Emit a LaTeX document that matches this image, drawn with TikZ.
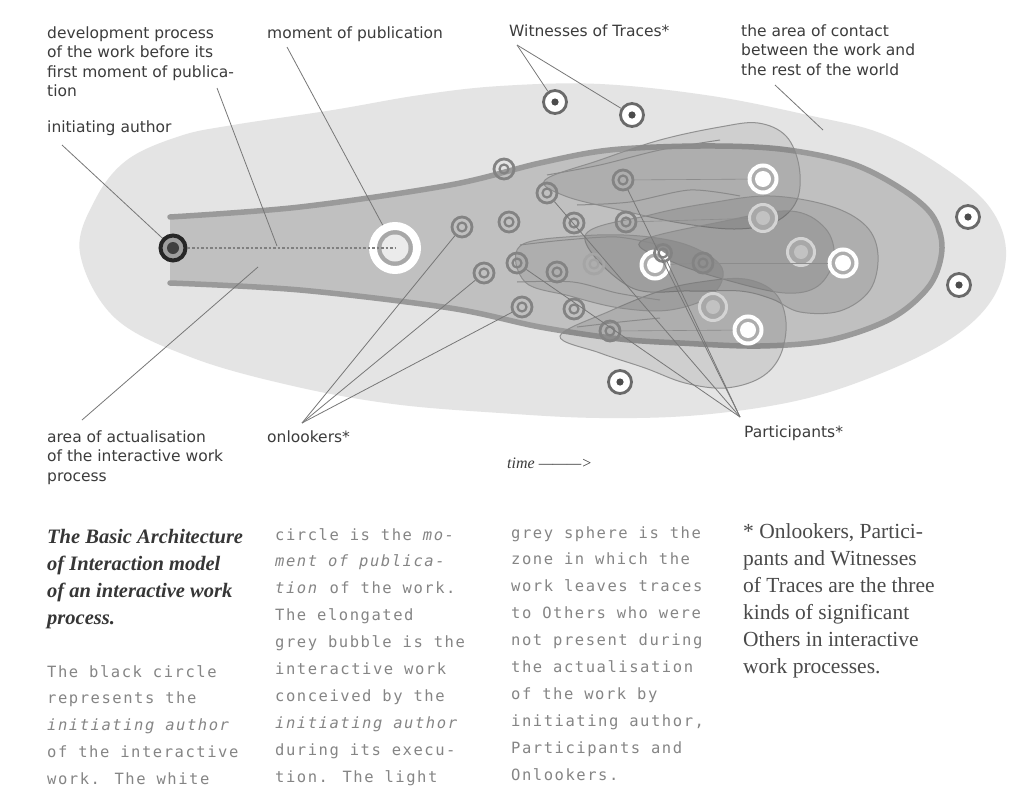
\documentclass[tikz,border=0pt]{standalone}
\usepackage{fontspec}
\newfontfamily\labfont{DejaVu Sans}
\newfontfamily\monof[LetterSpace=10,ItalicFont={DejaVu Sans Mono Oblique}]{DejaVu Sans Mono}
\newfontfamily\serf{Liberation Serif}
\definecolor{spherec}{HTML}{E4E4E4}
\definecolor{bubblec}{HTML}{C0C0C0}
\definecolor{bubbleline}{HTML}{9A9A9A}
\definecolor{lobeline}{HTML}{8A8A8A}
\definecolor{ringc}{HTML}{838383}
\definecolor{witc}{HTML}{6A6A6A}
\definecolor{leaderc}{HTML}{777777}
\definecolor{labc}{HTML}{3C3C3C}
\definecolor{monoc}{HTML}{858585}
\definecolor{headc}{HTML}{363636}
\definecolor{footc}{HTML}{4A4A4A}
\tikzset{
  labtxt/.style={font=\labfont\fontsize{15.5}{19.5}\selectfont, text=labc, align=left, inner sep=0pt, anchor=base west},
  monotxt/.style={font=\monof\fontsize{15.5}{26.9}\selectfont, text=monoc, align=left, inner sep=0pt, anchor=base west},
  headtxt/.style={font=\serf\bfseries\itshape\fontsize{20.5}{27}\selectfont, text=headc, align=left, inner sep=0pt, anchor=base west},
  foottxt/.style={font=\serf\fontsize{21.5}{27}\selectfont, text=footc, align=left, inner sep=0pt, anchor=base west},
  timetxt/.style={font=\serf\itshape\fontsize{16}{20}\selectfont, text=labc, inner sep=0pt, anchor=base west},
  onl/.style={circle, minimum size=20pt, inner sep=0pt, draw=ringc, line width=2.8pt,
    path picture={\draw[ringc, line width=2.2pt] (path picture bounding box.center) circle (4.5);}},
  onlsmall/.style={onl, minimum size=17pt},
  onlfaint/.style={onl, draw=ringc!45!bubblec,
    path picture={\draw[ringc!45!bubblec, line width=2.2pt] (path picture bounding box.center) circle (4.5);}},
  wit/.style={circle, minimum size=23pt, inner sep=0pt, draw=witc, line width=2.8pt, fill=white,
    path picture={\fill[black!70] (path picture bounding box.center) circle (3.6);}},
  part/.style={circle, minimum size=27pt, inner sep=0pt, draw=white, line width=4pt, fill=black!32,
    path picture={\fill[white] (path picture bounding box.center) circle (8);}},
  partfaint/.style={circle, minimum size=27pt, inner sep=0pt, draw=black!17, line width=3pt, fill=black!34,
    path picture={\fill[black!24] (path picture bounding box.center) circle (7);}},
  pubc/.style={circle, minimum size=44pt, inner sep=0pt, draw=white, line width=8pt, fill=black!34,
    path picture={\fill[black!8] (path picture bounding box.center) circle (13.5);}},
  authc/.style={circle, minimum size=25pt, inner sep=0pt, draw=black!85, line width=4pt, fill=black!38,
    path picture={\fill[black!75] (path picture bounding box.center) circle (6);}},
  leader/.style={draw=leaderc, line width=0.8pt},
  lobe/.style={fill=black, fill opacity=0.09, draw=lobeline, draw opacity=0.9, line width=1pt},
  tailline/.style={draw=lobeline, line width=1pt},
  faintline/.style={draw=black!45, line width=0.6pt},
  dotline/.style={draw=black!50, line width=1.8pt, dash pattern=on 2.5pt off 2pt}
}
\begin{document}
\begin{tikzpicture}[x=1pt,y=-1pt]
\useasboundingbox (0,0) rectangle (1024,808);
\fill[white] (0,0) rectangle (1024,808);

% light grey sphere
\fill[spherec] plot[smooth cycle, tension=0.6] coordinates {
 (80,253) (95,200) (127,160) (180,136) (233,125) (333,110) (420,95) (500,86) (600,84) (712,96)
 (812,116) (880,133) (940,165) (988,205) (1006,250) (993,298) (952,338) (882,373)
 (800,400) (700,415) (600,418) (500,413) (393,404) (293,386) (193,358) (115,318)};

% elongated bubble
\fill[bubblec] plot[smooth, tension=0.55] coordinates {
 (170,217) (300,207) (450,185) (540,163) (610,150) (700,146) (780,149) (850,163) (900,188)
 (932,215) (942,248) (930,285) (892,318) (830,340) (760,346) (680,343) (620,339) (540,327)
 (450,308) (300,290) (170,283)} -- cycle;
\draw[bubbleline, line width=5.5pt, line cap=round] plot[smooth, tension=0.55] coordinates {
 (170,217) (300,207) (450,185) (540,163) (610,150) (700,146) (780,149) (850,163) (900,188)
 (932,215) (942,248) (930,285) (892,318) (830,340) (760,346) (680,343) (620,339) (540,327)
 (450,308) (300,290) (170,283)};

% participant lobes
\path[lobe] plot[smooth cycle, tension=0.6] coordinates {
 (545,180) (600,160) (660,140) (720,127) (758,123) (786,136) (799,166) (797,200) (775,222)
 (735,229) (680,223) (620,210) (565,196)};
\path[lobe] plot[smooth cycle, tension=0.6] coordinates {
 (585,236) (650,215) (710,203) (770,196) (830,206) (866,226) (878,255) (870,290) (840,311)
 (800,312) (772,299) (740,291) (690,291) (630,287)};
\path[lobe] plot[smooth cycle, tension=0.6] coordinates {
 (640,242) (720,222) (790,211) (825,228) (834,258) (818,286) (785,293) (730,281) (675,263)};
\path[lobe] plot[smooth cycle, tension=0.6] coordinates {
 (560,336) (610,311) (660,291) (700,282) (745,279) (775,293) (786,322) (780,356) (760,378)
 (725,388) (685,383) (645,368) (600,353)};
\path[lobe] plot[smooth cycle, tension=0.6] coordinates {
 (520,246) (580,236) (640,236) (690,246) (722,268) (712,295) (670,310) (620,308) (570,296) (525,282)};

% tails
\draw[tailline] plot[smooth] coordinates {(547,175) (600,165) (660,150) (720,140)};
\draw[tailline] plot[smooth] coordinates {(577,205) (630,202) (690,190) (740,196)};
\draw[tailline] plot[smooth] coordinates {(520,245) (565,240) (617,237) (660,245)};
\draw[tailline] plot[smooth] coordinates {(517,282) (573,282) (617,293) (660,300)};
\draw[tailline] plot[smooth] coordinates {(577,327) (620,322) (660,318)};

% circles: onlookers / participants in the bubble
\node[onl] (o1) at (504,169) {};
\node[onl] (o2) at (547,193) {};
\node[onl] (o3) at (623,180) {};
\node[onl] (o4) at (462,227) {};
\node[onl] (o5) at (509,222) {};
\node[onl] (o6) at (574,223) {};
\node[onl] (o7) at (626,222) {};
\node[onl] (o8) at (517,263) {};
\node[onl] (o9) at (484,273) {};
\node[onl] (o10) at (557,272) {};
\node[onlfaint] (o11) at (594,264) {};
\node[onl] (o13) at (703,263) {};
\node[onl] (o14) at (522,307) {};
\node[onl] (o15) at (574,309) {};
\node[onl] (o16) at (610,331) {};

% faint participants
\node[partfaint] (f1) at (763,218) {};
\node[partfaint] (f2) at (801,252) {};
\node[partfaint] (f3) at (713,307) {};

% white participants
\node[part] (w1) at (763,179) {};
\node[part] (w2) at (655,265) {};
\node[part] (w3) at (843,263) {};
\node[part] (w4) at (748,330) {};
\node[onlsmall] (o12) at (663,253) {};

% trajectories
\draw[faintline] (o3) -- (w1);
\draw[faintline] (o7) -- (f1);
\draw[faintline] (w2) -- (o13);
\draw[faintline] (o13) -- (w3);
\draw[faintline] (o16) -- (w4);

% witnesses
\node[wit] (t1) at (555,102) {};
\node[wit] (t2) at (632,115) {};
\node[wit] (t3) at (968,217) {};
\node[wit] (t4) at (959,285) {};
\node[wit] (t5) at (620,382) {};

% author and publication
\node[authc] (author) at (173,248) {};
\node[pubc] (pub) at (395,248) {};
\draw[dotline] (author) -- (pub.center);

% labels (anchor = baseline of the last line)
\node[labtxt] (lab-dev) at (47,96.5) {development process\\of the work before its\\first moment of publica-\\tion};
\node[labtxt] (lab-mop) at (267,38) {moment of publication};
\node[labtxt] (lab-wit) at (509,37) {Witnesses of Traces*};
\node[labtxt] (lab-con) at (741,75) {the area of contact\\between the work and\\the rest of the world};
\node[labtxt] (lab-ia) at (47,132) {initiating author};
\node[labtxt] (lab-aa) at (47,481) {area of actualisation\\of the interactive work\\process};
\node[labtxt] (lab-onl) at (267,442) {onlookers*};
\node[labtxt] (lab-par) at (744,437) {Participants*};
\node[timetxt] (lab-time) at (507,468) {time ———>};

% leader coordinates
\coordinate (c-dev0) at (217,88);
\coordinate (c-dev1) at (277,246);
\coordinate (c-mop0) at (287,47);
\coordinate (c-ia0) at (62,145);
\coordinate (c-aa0) at (82,420);
\coordinate (c-aa1) at (258,267);
\coordinate (c-wit0) at (517,45);
\coordinate (c-con0) at (775,85);
\coordinate (c-con1) at (823,130);
\coordinate (c-onl0) at (302,423);
\coordinate (c-par0) at (740,417);

\draw[leader] (c-dev0) -- (c-dev1);
\draw[leader] (c-mop0) -- (pub);
\draw[leader] (c-ia0) -- (author);
\draw[leader] (c-aa0) -- (c-aa1);
\draw[leader] (c-wit0) -- (t1);
\draw[leader] (c-wit0) -- (t2);
\draw[leader] (c-con0) -- (c-con1);
\draw[leader] (c-onl0) -- (o4);
\draw[leader] (c-onl0) -- (o9);
\draw[leader] (c-onl0) -- (o14);
\draw[leader] (c-par0) -- (o2);
\draw[leader] (c-par0) -- (o3);
\draw[leader] (c-par0) -- (o8);
\draw[leader] (c-par0) -- (o12);

% caption columns (anchor = baseline of the last line)
\node[headtxt] (head) at (47,624) {The Basic Architecture\\of Interaction model\\of an interactive work\\process.};
\node[monotxt] (col1) at (47,784.6) {The black circle\\represents the\\\textit{initiating author}\\of the interactive\\work. The white};
\node[monotxt] (col2) at (275,782.1) {circle is the \textit{mo-}\\\textit{ment of publica-}\\\textit{tion} of the work.\\The elongated\\grey bubble is the\\interactive work\\conceived by the\\\textit{initiating author}\\during its execu-\\tion. The light};
\node[monotxt] (col3) at (511,780.1) {grey sphere is the\\zone in which the\\work leaves traces\\to Others who were\\not present during\\the actualisation\\of the work by\\initiating author,\\Participants and\\Onlookers.};
\node[foottxt] (col4) at (743,673) {* Onlookers, Partici-\\pants and Witnesses\\of Traces are the three\\kinds of significant\\Others in interactive\\work processes.};
\end{tikzpicture}
\end{document}
